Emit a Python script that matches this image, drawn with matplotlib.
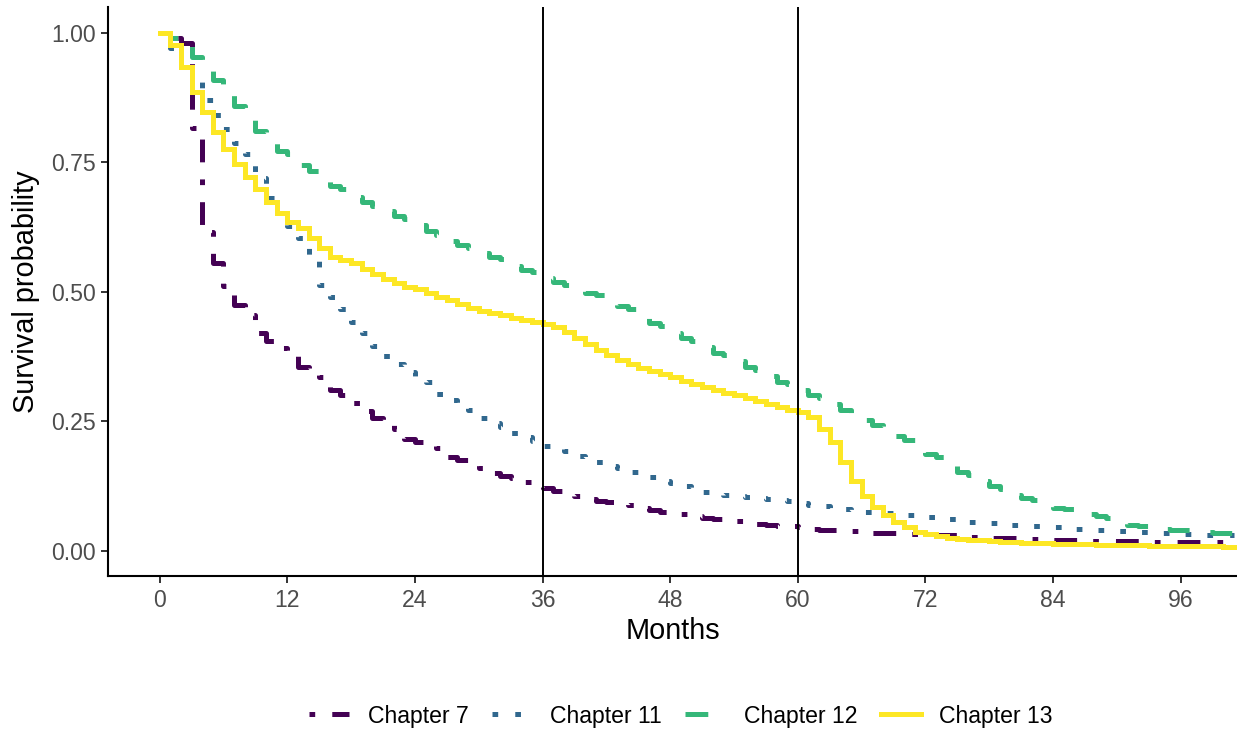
import matplotlib
matplotlib.use("Agg")
import matplotlib.pyplot as plt
import numpy as np

plt.rcParams['font.family'] = ['Liberation Sans', 'DejaVu Sans']
plt.rcParams['lines.scale_dashes'] = False

months = np.arange(0, 102)

ch7 = [1.000, 0.990, 0.980, 0.816, 0.615, 0.555, 0.510, 0.473, 0.455, 0.420,
       0.405, 0.390, 0.375, 0.355, 0.345, 0.335, 0.310, 0.300, 0.285, 0.270,
       0.255, 0.245, 0.235, 0.215, 0.210, 0.205, 0.197, 0.180, 0.175, 0.168,
       0.160, 0.150, 0.143, 0.140, 0.133, 0.127, 0.120, 0.115, 0.110, 0.105,
       0.100, 0.096, 0.093, 0.090, 0.087, 0.082, 0.078, 0.075, 0.072, 0.070,
       0.066, 0.063, 0.061, 0.058, 0.056, 0.053, 0.051, 0.050, 0.048, 0.047,
       0.046, 0.042, 0.040, 0.039, 0.038, 0.037, 0.035, 0.034, 0.033, 0.033,
       0.032, 0.031, 0.030, 0.030, 0.029, 0.028, 0.027, 0.026, 0.025, 0.024,
       0.024, 0.023, 0.023, 0.022, 0.021, 0.020, 0.020, 0.019, 0.019, 0.019,
       0.018, 0.018, 0.018, 0.017, 0.017, 0.016, 0.016, 0.016, 0.016, 0.016,
       0.016, 0.016]

ch11 = [1.000, 0.970, 0.945, 0.915, 0.870, 0.840, 0.813, 0.787, 0.765, 0.720,
        0.680, 0.652, 0.627, 0.604, 0.560, 0.512, 0.490, 0.466, 0.442, 0.419,
        0.395, 0.375, 0.360, 0.345, 0.335, 0.325, 0.302, 0.290, 0.280, 0.272,
        0.255, 0.246, 0.238, 0.226, 0.219, 0.212, 0.201, 0.197, 0.193, 0.182,
        0.176, 0.171, 0.164, 0.159, 0.152, 0.146, 0.141, 0.135, 0.130, 0.124,
        0.119, 0.113, 0.110, 0.108, 0.105, 0.103, 0.101, 0.099, 0.097, 0.095,
        0.092, 0.088, 0.085, 0.082, 0.080, 0.077, 0.075, 0.073, 0.072, 0.070,
        0.068, 0.066, 0.064, 0.062, 0.060, 0.057, 0.055, 0.054, 0.053, 0.051,
        0.050, 0.049, 0.048, 0.046, 0.045, 0.043, 0.042, 0.040, 0.039, 0.038,
        0.037, 0.036, 0.035, 0.034, 0.033, 0.032, 0.031, 0.030, 0.029, 0.029,
        0.029, 0.029]

ch12 = [1.000, 0.990, 0.975, 0.953, 0.930, 0.909, 0.883, 0.858, 0.833, 0.810,
        0.790, 0.771, 0.765, 0.745, 0.733, 0.717, 0.703, 0.697, 0.683, 0.672,
        0.665, 0.655, 0.645, 0.640, 0.628, 0.617, 0.610, 0.598, 0.590, 0.584,
        0.574, 0.566, 0.562, 0.550, 0.542, 0.538, 0.527, 0.518, 0.513, 0.503,
        0.498, 0.494, 0.482, 0.472, 0.466, 0.452, 0.440, 0.433, 0.420, 0.410,
        0.405, 0.392, 0.382, 0.377, 0.365, 0.354, 0.348, 0.336, 0.326, 0.321,
        0.310, 0.301, 0.295, 0.282, 0.272, 0.264, 0.252, 0.242, 0.235, 0.222,
        0.214, 0.200, 0.187, 0.180, 0.165, 0.152, 0.146, 0.134, 0.124, 0.118,
        0.108, 0.101, 0.097, 0.089, 0.082, 0.080, 0.076, 0.070, 0.066, 0.062,
        0.055, 0.050, 0.048, 0.045, 0.042, 0.040, 0.039, 0.037, 0.035, 0.034,
        0.033, 0.032]

ch13 = [1.000, 0.975, 0.934, 0.886, 0.847, 0.808, 0.776, 0.747, 0.721, 0.697,
        0.673, 0.651, 0.634, 0.622, 0.603, 0.584, 0.567, 0.560, 0.555, 0.543,
        0.533, 0.524, 0.516, 0.508, 0.504, 0.497, 0.490, 0.483, 0.475, 0.468,
        0.463, 0.458, 0.454, 0.449, 0.445, 0.441, 0.437, 0.431, 0.422, 0.410,
        0.398, 0.387, 0.378, 0.368, 0.360, 0.352, 0.346, 0.340, 0.334, 0.327,
        0.321, 0.316, 0.310, 0.305, 0.300, 0.294, 0.288, 0.282, 0.277, 0.272,
        0.267, 0.258, 0.235, 0.209, 0.171, 0.135, 0.106, 0.084, 0.068, 0.055,
        0.045, 0.036, 0.031, 0.028, 0.025, 0.023, 0.021, 0.020, 0.018, 0.017,
        0.016, 0.015, 0.014, 0.014, 0.013, 0.013, 0.012, 0.012, 0.011, 0.011,
        0.010, 0.010, 0.010, 0.009, 0.009, 0.009, 0.008, 0.008, 0.008, 0.008,
        0.007, 0.007]

labels = ["Chapter 7", "Chapter 11", "Chapter 12", "Chapter 13"]
colors = ["#440154", "#31688E", "#35B779", "#FDE725"]
u = 4.1  # dash unit in points
styles = [(0, (u, 3 * u, 4 * u, 3 * u)),
          (0, (u, 3 * u)),
          (0, (4 * u, 4 * u)),
          "-"]
xticks = [0, 12, 24, 36, 48, 60, 72, 84, 96]
yticks = [0.00, 0.25, 0.50, 0.75, 1.00]
vlines = [36, 60]

W, H = 1237, 733
fig = plt.figure(figsize=(W / 100, H / 100), dpi=100)
ax = fig.add_axes([108 / W, 1 - 576.4 / H, (1237 - 108) / W, (576.4 - 6.6) / H])

for vals, lab, col, ls in zip([ch7, ch11, ch12, ch13], labels, colors, styles):
    ax.step(months, vals, where="post", color=col, linestyle=ls,
            linewidth=3.6, label=lab, solid_joinstyle="miter")

for v in vlines:
    ax.axvline(v, color="black", linewidth=1.4)

ax.set_xlim(-4.86, 101.3)
ax.set_ylim(-0.05, 1.05)
ax.set_xticks(xticks)
ax.set_yticks(yticks)
ax.set_yticklabels([f"{t:.2f}" for t in yticks])
ax.tick_params(axis="both", length=5, width=1.4, color="#333333",
               labelsize=16.6, labelcolor="#4D4D4D", pad=4)
for s in ["top", "right"]:
    ax.spines[s].set_visible(False)
for s in ["left", "bottom"]:
    ax.spines[s].set_linewidth(1.5)
    ax.spines[s].set_color("black")

ax.set_xlabel("Months", fontsize=20.8, labelpad=4)
ax.set_ylabel("Survival probability", fontsize=20.8, labelpad=8)

fig.legend(loc="center", bbox_to_anchor=(681 / W, 1 - 716 / H), ncol=4,
           frameon=False, fontsize=16.6, handlelength=1.75,
           handletextpad=0.8, columnspacing=1.0)

fig.savefig("out.png", dpi=100)
